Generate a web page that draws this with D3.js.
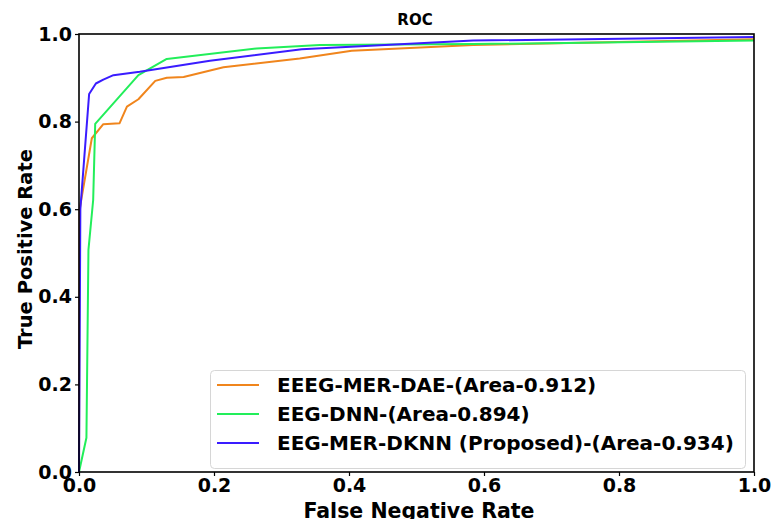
<!DOCTYPE html>
<html>
<head>
<meta charset="utf-8">
<script src="https://cdn.jsdelivr.net/npm/d3@7"></script>
<style>
  body { margin: 0; background: #fff; }
  text { font-family: "DejaVu Sans", sans-serif; font-weight: bold; fill: #000; }
</style>
</head>
<body>
<div id="chart"></div>
<script>

// data

var seriesNames = ["EEEG-MER-DAE-(Area-0.912)", "EEG-DNN-(Area-0.894)", "EEG-MER-DKNN (Proposed)-(Area-0.934)"];
var seriesColors = ["#f0851c", "#22ee5a", "#3a1cff"];

var daeFpr = [0, 0.001, 0.019, 0.036, 0.06, 0.071, 0.088, 0.113, 0.13, 0.155, 0.214, 0.327, 0.404, 0.584, 1.0];
var daeTpr = [0, 0.6, 0.762, 0.794, 0.796, 0.834, 0.851, 0.893, 0.9, 0.902, 0.924, 0.944, 0.962, 0.975, 0.988];

var dnnFpr = [0, 0.011, 0.014, 0.021, 0.024, 0.088, 0.13, 0.263, 0.357, 0.584, 1.0];
var dnnTpr = [0, 0.078, 0.507, 0.621, 0.795, 0.906, 0.943, 0.967, 0.975, 0.977, 0.985];

var dknnFpr = [0, 0.002, 0.015, 0.025, 0.036, 0.051, 0.09, 0.194, 0.33, 0.584, 1.0];
var dknnTpr = [0, 0.6, 0.863, 0.887, 0.896, 0.906, 0.914, 0.939, 0.965, 0.985, 0.993];

var tickValues = [0, 0.2, 0.4, 0.6, 0.8, 1.0];

var series = [
  { name: seriesNames[0], color: seriesColors[0], pts: d3.zip(daeFpr, daeTpr) },
  { name: seriesNames[1], color: seriesColors[1], pts: d3.zip(dnnFpr, dnnTpr) },
  { name: seriesNames[2], color: seriesColors[2], pts: d3.zip(dknnFpr, dknnTpr) }
];

var width = 772,
    height = 519,
    margin = {top: 34, right: 18, bottom: 47, left: 79};

var svg = d3.select("#chart").append("svg")
  .attr("width", width)
  .attr("height", height);

var x = d3.scaleLinear().domain([0, 1]).range([margin.left, width - margin.right]);
var y = d3.scaleLinear().domain([0, 1]).range([height - margin.bottom, margin.top]);

// curves first, frame drawn on top

var line = d3.line()
  .x(function(d) { return x(d[0]); })
  .y(function(d) { return y(d[1]); });

svg.append("defs").append("clipPath").attr("id", "clip")
  .append("rect")
  .attr("x", x(0) - 1).attr("y", y(1) - 1)
  .attr("width", x(1) - x(0) + 2).attr("height", y(0) - y(1) + 2);

svg.append("g").attr("clip-path", "url(#clip)")
  .selectAll("path")
  .data(series)
  .enter()
  .append("path")
  .attr("d", function(d) { return line(d.pts); })
  .style("fill", "none")
  .style("stroke", function(d) { return d.color; })
  .style("stroke-width", 2)
  .style("stroke-linejoin", "round");

// axes

var xAxis = svg.append("g")
  .attr("transform", "translate(0," + y(0) + ")")
  .call(d3.axisBottom(x).tickValues(tickValues).tickFormat(d3.format(".1f")).tickSize(4).tickPadding(3));

var yAxis = svg.append("g")
  .attr("transform", "translate(" + x(0) + ",0)")
  .call(d3.axisLeft(y).tickValues(tickValues).tickFormat(d3.format(".1f")).tickSize(4).tickPadding(3));

[xAxis, yAxis].forEach(function(a) {
  a.select(".domain").remove();
  a.selectAll("line").style("stroke", "#000").style("stroke-width", 1.2);
  a.selectAll("text").style("font-size", "19px").style("font-family", "DejaVu Sans").style("font-weight", "bold");
});

// frame

svg.append("rect")
  .attr("x", x(0)).attr("y", y(1))
  .attr("width", x(1) - x(0)).attr("height", y(0) - y(1))
  .style("fill", "none")
  .style("stroke", "#000")
  .style("stroke-width", 1.6);

// title and labels

svg.append("text")
  .attr("x", 415).attr("y", 25)
  .attr("text-anchor", "middle")
  .style("font-size", "15px")
  .text("ROC");

svg.append("text")
  .attr("x", 419).attr("y", 518)
  .attr("text-anchor", "middle")
  .style("font-size", "20.5px")
  .text("False Negative Rate");

svg.append("text")
  .attr("transform", "translate(32,249) rotate(-90)")
  .attr("text-anchor", "middle")
  .style("font-size", "19.5px")
  .text("True Positive Rate");

// legend

var legend = svg.append("g");

legend.append("rect")
  .attr("x", 210.5).attr("y", 370.5)
  .attr("width", 535).attr("height", 98)
  .attr("rx", 4)
  .style("fill", "#fff")
  .style("fill-opacity", 0.8)
  .style("stroke", "#d6d6d6");

var rows = legend.selectAll("g.row")
  .data(series)
  .enter()
  .append("g")
  .attr("class", "row")
  .attr("transform", function(d, i) { return "translate(0," + (385 + i * 29) + ")"; });

rows.append("line")
  .attr("x1", 217).attr("x2", 259)
  .style("stroke", function(d) { return d.color; })
  .style("stroke-width", 2);

rows.append("text")
  .attr("x", 277).attr("y", 7)
  .style("font-size", "20px")
  .text(function(d) { return d.name; });

</script>
</body>
</html>
